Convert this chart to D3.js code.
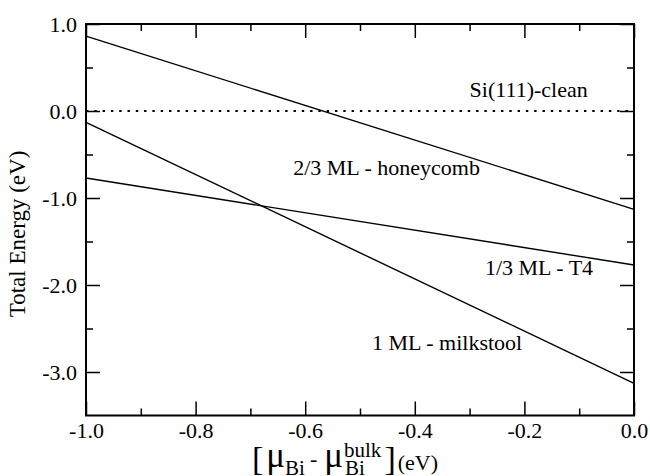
<!DOCTYPE html>
<html lang="en">
    <head>
        <meta http-equiv="Content-Type" content="text/html; charset=UTF-8" />
        <title>total energy</title>
        <script src="https://cdn.jsdelivr.net/npm/d3@7/dist/d3.min.js"></script>
        <style>
            html, body { margin: 0; padding: 0; background: #fff; }
            svg, svg text { font-family: "Liberation Serif", "Times New Roman", Times, serif; }
        </style>

        <script>
            // chemical potential range (eV) at the two ends of each line
            const mu = [-1.0, 0.0]
            const clean = [0.0, 0.0]
            const honeycomb = [0.86, -1.13]
            const t4 = [-0.77, -1.77]
            const milkstool = [-0.13, -3.13]

            const xMajor = [-1.0, -0.8, -0.6, -0.4, -0.2, 0.0]
            const xMinor = [-0.9, -0.7, -0.5, -0.3, -0.1]
            const yMajor = [1.0, 0.0, -1.0, -2.0, -3.0]
            const yMinor = [0.5, -0.5, -1.5, -2.5]

            // labels, placed in data coordinates
            const labelText = ['Si(111)-clean', '2/3 ML - honeycomb', '1/3 ML - T4', '1 ML - milkstool']
            const labelX = [-0.30, -0.622, -0.272, -0.478]
            const labelY = [0.16, -0.74, -1.89, -2.75]

            const FONT = '"Liberation Serif", "Times New Roman", serif'

            const state = {
                dim: [650, 476],
                plot: { left: 86, right: 634, top: 24, bottom: 415.5 },
                scales: { x: null, y: null },
                major: 14,
                minor: 7,
            }

            window.onload = () => {
                draw()
            }

            function setScales() {
                state.scales.x = d3.scaleLinear()
                    .domain([-1.0, 0.0])
                    .range([state.plot.left, state.plot.right])
                state.scales.y = d3.scaleLinear()
                    .domain([-3.5, 1.0])
                    .range([state.plot.bottom, state.plot.top])
            }

            // hyphen instead of the unicode minus d3.format gives
            const fmt = v => d3.format('.1f')(v).replace('\u2212', '-')

            function drawAxes(svg) {
                const p = state.plot
                const x = state.scales.x
                const y = state.scales.y

                const bottom = svg.append('g')
                    .attr('transform', `translate(0,${p.bottom})`)
                    .call(d3.axisBottom(x).tickValues(xMajor).tickFormat(fmt).tickSize(-state.major).tickPadding(7))
                bottom.append('g')
                    .call(d3.axisBottom(x).tickValues(xMinor).tickFormat('').tickSize(-state.minor))

                const top = svg.append('g')
                    .attr('transform', `translate(0,${p.top})`)
                    .call(d3.axisTop(x).tickValues(xMajor).tickFormat('').tickSize(-state.major))
                top.append('g')
                    .call(d3.axisTop(x).tickValues(xMinor).tickFormat('').tickSize(-state.minor))

                const left = svg.append('g')
                    .attr('transform', `translate(${p.left},0)`)
                    .call(d3.axisLeft(y).tickValues(yMajor).tickFormat(fmt).tickSize(-state.major).tickPadding(9))
                left.append('g')
                    .call(d3.axisLeft(y).tickValues(yMinor).tickFormat('').tickSize(-state.minor))

                const right = svg.append('g')
                    .attr('transform', `translate(${p.right},0)`)
                    .call(d3.axisRight(y).tickValues(yMajor).tickFormat('').tickSize(-state.major))
                right.append('g')
                    .call(d3.axisRight(y).tickValues(yMinor).tickFormat('').tickSize(-state.minor))

                svg.selectAll('.domain').remove()
                svg.selectAll('.tick line')
                    .style('stroke', '#000')
                    .style('stroke-width', 1.5)
                svg.selectAll('g').attr('font-family', FONT)
                svg.selectAll('.tick text')
                    .attr('font-size', 22)
                    .style('fill', '#000')

                svg.append('rect')
                    .attr('x', p.left)
                    .attr('y', p.top)
                    .attr('width', p.right - p.left)
                    .attr('height', p.bottom - p.top)
                    .style('fill', 'none')
                    .style('stroke', '#000')
                    .style('stroke-width', 2)
            }

            function drawTitles(svg) {
                svg.append('text')
                    .attr('transform', `translate(25,234) rotate(-90)`)
                    .attr('text-anchor', 'middle')
                    .attr('font-family', FONT)
                    .attr('font-size', 23)
                    .text('Total Energy (eV)')

                // x title built piece by piece: [ mu_Bi - mu_Bi^bulk ](eV)
                const base = 467
                let cx = 252
                const put = (str, size, dy, gap) => {
                    const t = svg.append('text')
                        .attr('x', cx + (gap || 0))
                        .attr('y', base + dy)
                        .attr('font-family', FONT)
                        .attr('font-size', size)
                        .text(str)
                    const w = t.node().getComputedTextLength()
                    cx += (gap || 0) + w
                    return w
                }
                put('[', 34, 3, 0)
                put('μ', 35, 0, 3)
                put('Bi', 21, 8, 0)
                put('-', 22, -1, 5)
                put('μ', 35, 0, 7)
                const subX = cx
                put('bulk', 21, -10, 1)
                const afterSup = cx
                cx = subX + 2
                put('Bi', 21, 8, 0)
                cx = Math.max(cx, afterSup)
                put(']', 34, 3, 3)
                put('(eV)', 22, 3, 2)
            }

            function draw() {
                const svg = d3.select('#chart')
                    .attr('width', state.dim[0])
                    .attr('height', state.dim[1])
                svg.selectAll('*').remove()

                setScales()
                const x = state.scales.x
                const y = state.scales.y

                const series = [
                    { name: labelText[0], values: clean, dotted: true },
                    { name: labelText[1], values: honeycomb },
                    { name: labelText[2], values: t4 },
                    { name: labelText[3], values: milkstool },
                ]

                const line = d3.line()
                    .x(d => x(d[0]))
                    .y(d => y(d[1]))

                svg.selectAll('path.series')
                    .data(series)
                    .enter()
                        .append('path')
                        .attr('class', 'series')
                        .attr('d', d => line(mu.map((m, i) => [m, d.values[i]])))
                        .style('fill', 'none')
                        .style('stroke', '#000')
                        .style('stroke-width', d => d.dotted ? 2.2 : 1.4)
                        .style('stroke-dasharray', d => d.dotted ? '2.4,5.9' : null)

                drawAxes(svg)

                svg.selectAll('text.label')
                    .data(labelText)
                    .enter()
                        .append('text')
                        .attr('class', 'label')
                        .attr('x', (d, i) => x(labelX[i]))
                        .attr('y', (d, i) => y(labelY[i]))
                        .attr('font-family', FONT)
                        .attr('font-size', 22)
                        .text(d => d)

                drawTitles(svg)
            }
        </script>
    </head>
    <body>
        <svg id="chart"></svg>
    </body>
</html>
